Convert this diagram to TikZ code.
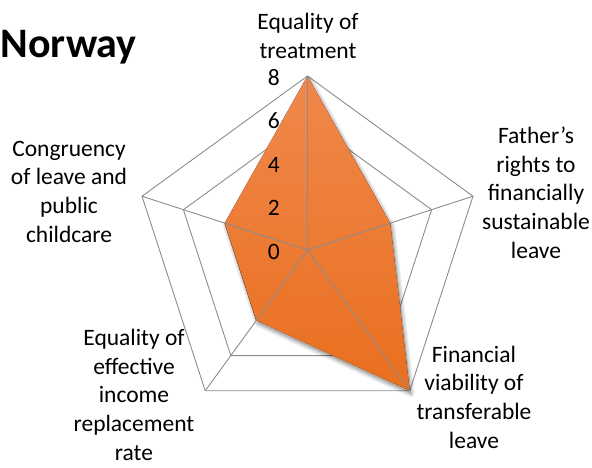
\documentclass[tikz,border=0pt]{standalone}
\usepackage{fontspec}
\setmainfont{Carlito}
\usetikzlibrary{positioning,calc}
\definecolor{radartop}{RGB}{240,136,76}
\definecolor{radarbottom}{RGB}{233,111,30}
\definecolor{gridgray}{RGB}{140,140,140}

\begin{document}
\begin{tikzpicture}[
    x=1pt,y=-1pt,
    axislabel/.style={font=\fontsize{23.5}{28.6}\selectfont,align=center,inner sep=0pt,anchor=base},
    ticklabel/.style={font=\fontsize{23.5}{28.6}\selectfont,inner sep=0pt,anchor=base east},
    gridline/.style={draw=gridgray,line width=0.9pt},
]
\useasboundingbox (0,0) rectangle (592,467);

% Centre and axis ends
\coordinate (c) at (307.5,250);
\foreach \i/\a in {1/-90,2/-18,3/54,4/126,5/198}
    \coordinate (v\i) at ($(c)+(\a:174)$);

% Grid rings (2,4,6,8)
\foreach \r in {43.5,87,130.5,174}
    \draw[gridline,line join=round] ($(c)+(-90:\r)$) -- ($(c)+(-18:\r)$) -- ($(c)+(54:\r)$)
        -- ($(c)+(126:\r)$) -- ($(c)+(198:\r)$) -- cycle;

% Data points
\coordinate (d1) at (v1);
\coordinate (d2) at ($(c)+(-18:87)$);
\coordinate (d3) at (v3);
\coordinate (d4) at ($(c)+(126:87)$);
\coordinate (d5) at ($(c)+(198:87)$);

% Shadow
\foreach \w in {7,5,3,1}
    \draw[black,opacity=0.06,line width=\w pt,line join=round,
        transform canvas={xshift=1.5pt,yshift=-3pt}]
        (d1) -- (d2) -- (d3) -- (d4) -- (d5) -- cycle;
\fill[black,opacity=0.15,transform canvas={xshift=1.5pt,yshift=-3pt}]
    (d1) -- (d2) -- (d3) -- (d4) -- (d5) -- cycle;

% Data area
\fill[top color=radartop,bottom color=radarbottom]
    (d1) -- (d2) -- (d3) -- (d4) -- (d5) -- cycle;

% Spokes
\foreach \i in {1,...,5}
    \draw[gridline] (c) -- (v\i);

% Scale labels
\foreach \v in {0,2,4,6,8}
    \node[ticklabel] (t\v) at (280,{259-21.75*\v}) {\v};

% Axis labels (placed by the baseline of their last line)
\node[axislabel] (treat) at (308,58) {Equality of\\treatment};
\node[axislabel] (father) at (536,258) {Father’s\\rights to\\financially\\sustainable\\leave};
\node[axislabel] (viab) at (474,448) {Financial\\viability of\\transferable\\leave};
\node[axislabel] (income) at (134,460) {Equality of\\effective\\income\\replacement\\rate};
\node[axislabel] (congr) at (69,242) {Congruency\\of leave and\\public\\childcare};

% Title
\node[font=\fontsize{42}{50}\selectfont\bfseries,inner sep=0pt,anchor=base east] (title) at (137,57) {Norway};

\end{tikzpicture}
\end{document}
